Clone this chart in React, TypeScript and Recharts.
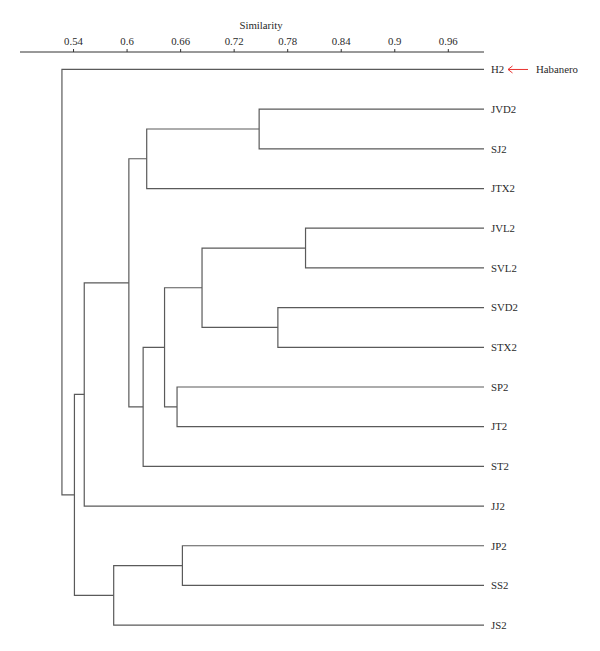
import React from 'react';
import { ScatterChart, Scatter, XAxis, YAxis } from 'recharts';

// leaves, top to bottom
const leaves = ['H2', 'JVD2', 'SJ2', 'JTX2', 'JVL2', 'SVL2', 'SVD2', 'STX2', 'SP2', 'JT2', 'ST2', 'JJ2', 'JP2', 'SS2', 'JS2'];

// merges: children (leaf name or mN) and similarity level
const mergeLeft = ['JVD2', 'm0', 'JVL2', 'SVD2', 'm2', 'SP2', 'm4', 'm6', 'm1', 'm8', 'JP2', 'm10', 'm9', 'H2'];
const mergeRight = ['SJ2', 'JTX2', 'SVL2', 'STX2', 'm3', 'JT2', 'm5', 'ST2', 'm7', 'JJ2', 'SS2', 'JS2', 'm11', 'm12'];
const mergeLevel = [0.748, 0.622, 0.8, 0.769, 0.684, 0.656, 0.642, 0.618, 0.602, 0.552, 0.662, 0.585, 0.541, 0.527];

const xTicks = [0.54, 0.6, 0.66, 0.72, 0.78, 0.84, 0.9, 0.96];
const leafLevel = 1.0;

const FONT = '"Liberation Serif", "Times New Roman", serif';

type Pt = { x: number; y: number };

const nodePos: Record<string, Pt> = {};
leaves.forEach((name, i) => {
  nodePos[name] = { x: leafLevel, y: i };
});

const links: Pt[][] = mergeLevel.map((h, i) => {
  const a = nodePos[mergeLeft[i]];
  const b = nodePos[mergeRight[i]];
  nodePos['m' + i] = { x: h, y: (a.y + b.y) / 2 };
  return [
    { x: a.x, y: a.y },
    { x: h, y: a.y },
    { x: h, y: b.y },
    { x: b.x, y: b.y },
  ];
});

const LeafTick = (props: any) => {
  const { x, y, payload } = props;
  const name = leaves[payload.value];
  return (
    <g>
      <text x={x} y={y} dy={3.8} fontSize={10.8} fontFamily={FONT} fill="#2a2a2a">
        {name}
      </text>
      {payload.value === 0 && (
        <g>
          <line x1={508} y1={y} x2={528} y2={y} stroke="#e8322e" strokeWidth={1} />
          <path d={`M512.5,${y - 3.5} L508,${y} L512.5,${y + 3.5}`} fill="none" stroke="#e8322e" strokeWidth={1} />
          <text x={536} y={y} dy={3.8} fontSize={10.8} fontFamily={FONT} fill="#2a2a2a">
            Habanero
          </text>
        </g>
      )}
    </g>
  );
};

const NoDot = () => <g />;

export default function App() {
  return (
    <div style={{ position: 'absolute', left: 0, top: 0, width: 600, height: 651, background: '#fff' }}>
      <ScatterChart width={600} height={651} margin={{ top: 0, right: 0, bottom: 10, left: 20 }}>
        <XAxis
          type="number"
          dataKey="x"
          orientation="top"
          domain={[0.48, 1.0]}
          ticks={xTicks}
          height={52}
          tickSize={3}
          tickMargin={4}
          allowDataOverflow
          stroke="#333"
          tick={{ fill: '#2a2a2a', fontSize: 10.8, fontFamily: FONT }}
          label={{ value: 'Similarity', position: 'insideTop', offset: 21, dx: 9, fill: '#2a2a2a', fontSize: 10.8, fontFamily: FONT }}
        />
        <YAxis
          type="number"
          dataKey="y"
          orientation="right"
          reversed
          domain={[-0.44, 14.4]}
          ticks={leaves.map((_, i) => i)}
          interval={0}
          width={116}
          axisLine={false}
          tickLine={false}
          tickMargin={1}
          allowDataOverflow
          tick={<LeafTick />}
        />
        {links.map((pts, i) => (
          <Scatter
            key={i}
            data={pts}
            line={{ stroke: '#5a5a5a', strokeWidth: 1.2 }}
            lineType="joint"
            shape={<NoDot />}
            isAnimationActive={false}
          />
        ))}
      </ScatterChart>
    </div>
  );
}
